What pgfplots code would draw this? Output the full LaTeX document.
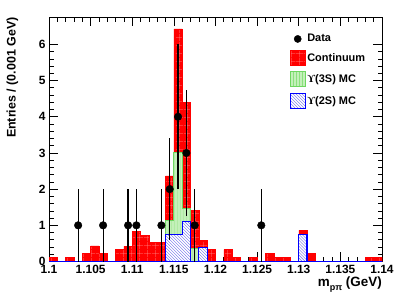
\documentclass[border=0pt]{standalone}
\usepackage{fontspec}
\setmainfont{Liberation Sans}
\newfontfamily\serifY{Liberation Serif}
\usepackage{pgfplots}
\pgfplotsset{compat=1.18}
\usetikzlibrary{patterns,patterns.meta}
\definecolor{gfill}{RGB}{195,240,185}
\definecolor{gline}{RGB}{110,215,95}
\definecolor{gpat}{RGB}{140,225,125}
\definecolor{bpat}{RGB}{110,110,235}
\definecolor{rgrid}{RGB}{255,150,150}
\tikzdeclarepattern{
  name=redgrid,
  type=uncolored,
  bottom left={(0bp,0bp)},
  top right={(8bp,8bp)},
  tile size={(8bp,8bp)},
  code={\draw[line width=0.35bp] (0bp,4bp) -- (8bp,4bp); \draw[line width=0.35bp] (4bp,0bp) -- (4bp,8bp);}
}
\begin{document}
\begin{tikzpicture}
\begin{axis}[
  at={(0,0)}, anchor=south west,
  scale only axis,
  width=333bp, height=244.2bp,
  xmin=1.1, xmax=1.14, ymin=0, ymax=6.75,
  xtick={1.1,1.105,1.11,1.115,1.12,1.125,1.13,1.135,1.14},
  xticklabels={1.1,1.105,1.11,1.115,1.12,1.125,1.13,1.135,1.14},
  ytick={0,1,2,3,4,5,6},
  minor x tick num=4, minor y tick num=4,
  tick align=inside,
  xtick pos=both, ytick pos=both,
  major tick length=9bp, minor tick length=4.5bp,
  every tick/.style={black, line width=0.7bp},
  axis line style={black, line width=0.8bp},
  /pgf/number format/assume math mode=true,
  ticklabel style={font=\bfseries\fontsize{12}{14}\selectfont},
  xticklabel style={yshift=-0.5bp},
  legend style={at={(rel axis cs:0.713,0.945)}, anchor=north west, draw=none, fill=none,
    font=\bfseries\fontsize{11}{13}\selectfont, row sep=5.5bp,
    nodes={inner sep=1.5bp}, cells={anchor=west}},
  legend cell align=left,
]
% legend
\addlegendimage{legend image code/.code={\fill[black] (7.5bp,0bp) circle (3.6bp);}}
\addlegendentry{Data}
\addlegendimage{legend image code/.code={\draw[red, fill=red, postaction={pattern=redgrid, pattern color=rgrid}] (0bp,-7.5bp) rectangle (15bp,7.5bp);}}
\addlegendentry{Continuum}
\addlegendimage{legend image code/.code={\draw[gline, line width=1bp, fill=gfill, postaction={pattern=vertical lines, pattern color=gpat}] (0bp,-7.5bp) rectangle (15bp,7.5bp);}}
\addlegendentry{{\serifY ϒ}(3S) MC}
\addlegendimage{legend image code/.code={\draw[blue, line width=1.2bp, fill=white, postaction={pattern=north west lines, pattern color=bpat}] (0bp,-7.5bp) rectangle (15bp,7.5bp);}}
\addlegendentry{{\serifY ϒ}(2S) MC}

% Continuum (total stack)
\addplot[forget plot, const plot mark left, draw=red, fill=red, postaction={pattern=redgrid, pattern color=rgrid}] coordinates {
(1.100,0.11) (1.101,0) (1.102,0.11) (1.103,0) (1.104,0.22) (1.105,0.43) (1.106,0.22) (1.107,0)
(1.108,0.33) (1.109,0.42) (1.110,0.84) (1.111,0.72) (1.112,0.53) (1.113,0.53) (1.114,2.37)
(1.115,6.43) (1.116,4.40) (1.117,1.42) (1.118,0.58) (1.119,0.33) (1.120,0) (1.121,0.33)
(1.122,0.11) (1.123,0) (1.124,0.11) (1.125,0) (1.126,0.22) (1.127,0.11) (1.128,0.11) (1.129,0)
(1.130,0.86) (1.131,0.22) (1.132,0) (1.138,0.11) (1.139,0.11) (1.140,0.11)
} \closedcycle;

% Upsilon(3S) MC (stacked on 2S)
\addplot[forget plot, const plot mark left, draw=gline, line width=1bp, fill=gfill, postaction={pattern=vertical lines, pattern color=gpat}] coordinates {
(1.114,1.12) (1.115,3.02) (1.116,1.47) (1.117,0.36) (1.118,0.38) (1.119,0.38)
} \closedcycle;

% Upsilon(2S) MC
\addplot[forget plot, const plot mark left, draw=blue, line width=1.2bp, fill=white, postaction={pattern=north west lines, pattern color=bpat}] coordinates {
(1.100,0) (1.114,0.75) (1.115,0.75) (1.116,1.10) (1.117,0) (1.118,0.38) (1.119,0)
(1.130,0.75) (1.131,0) (1.140,0)
} \closedcycle;

% Data
\addplot[forget plot, only marks, mark=*, mark size=3.8bp, black,
  error bars/.cd, y dir=both, y explicit, error mark=none,
  error bar style={line width=1.2bp, black}] table[x=x, y=y, y error=e] {
x y e
1.1035 1 1
1.1065 1 1
1.1095 1 1
1.1105 1 1
1.1135 1 1
1.1145 2 1.414
1.1155 4 2
1.1165 3 1.732
1.1175 1 1
1.1255 1 1
};
\end{axis}
\node[rotate=90, anchor=south east, inner sep=0pt, font=\bfseries\fontsize{12.5}{14}\selectfont]
  at ([xshift=-30.5bp]current axis.north west) {Entries / (0.001 GeV)};
\node[anchor=north east, inner sep=0pt, font=\bfseries\fontsize{13.5}{15}\selectfont]
  at ([yshift=-15bp]current axis.south east) {m\raisebox{-0.3em}{\fontsize{9}{9}\selectfont pπ} (GeV)};
\path ([xshift=-49bp,yshift=-35.5bp]current axis.south west) rectangle ([xshift=25bp,yshift=17.3bp]current axis.north east);
\end{tikzpicture}
\end{document}
